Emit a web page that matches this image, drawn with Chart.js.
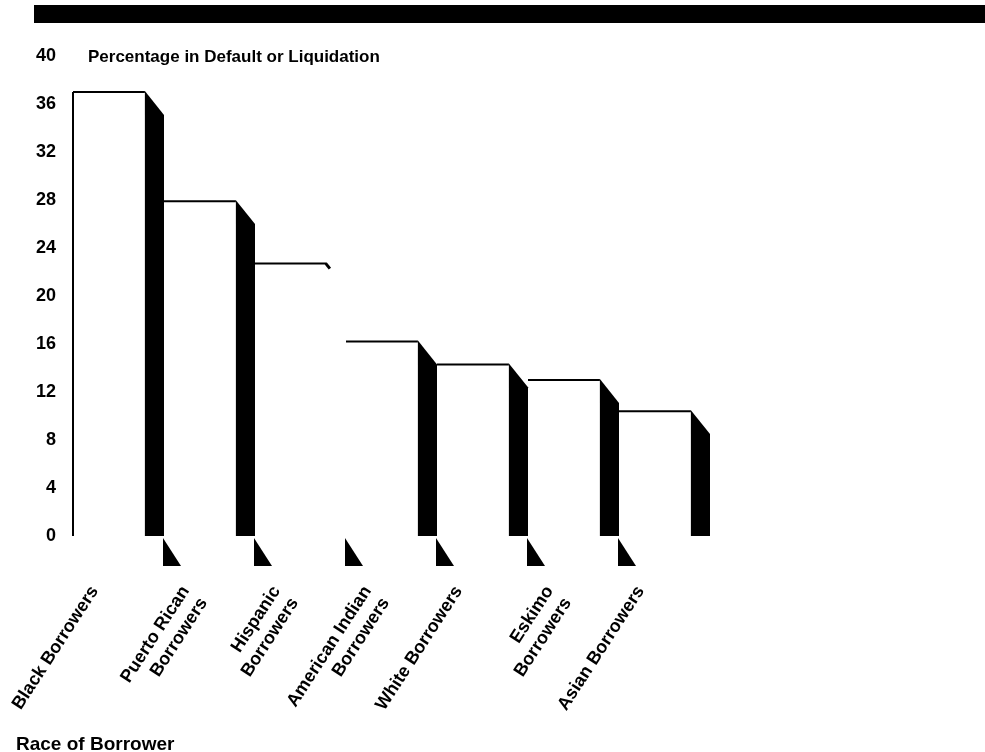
<!DOCTYPE html>
<html>
<head>
<meta charset="utf-8">
<title>Percentage in Default or Liquidation</title>
<script src="https://cdn.jsdelivr.net/npm/chart.js@4.4.1/dist/chart.umd.min.js"></script>
<style>
  html, body { margin: 0; padding: 0; background: #fff; }
</style>
</head>
<body>
<canvas id="defaultChart" width="985" height="752"></canvas>
<script>
// borrower groups, multi-line where the label wraps
var categories = [
  'Black Borrowers',
  ['Puerto Rican', 'Borrowers'],
  ['Hispanic', 'Borrowers'],
  ['American Indian', 'Borrowers'],
  'White Borrowers',
  ['Eskimo', 'Borrowers'],
  'Asian Borrowers'
];
var defaultRates = [37.0, 27.9, 22.7, 16.2, 14.3, 13.0, 10.4];
var yTicks = [0, 4, 8, 12, 16, 20, 24, 28, 32, 36, 40];
var yTitle = 'Percentage in Default or Liquidation';
var xTitle = 'Race of Borrower';

Chart.defaults.font.family = '"Liberation Sans", Arial, Helvetica, sans-serif';
Chart.defaults.font.size = 17;
Chart.defaults.font.weight = 'bold';
Chart.defaults.color = '#000';

// white front face + black depth side, drawn from the bar elements
var blockBars = {
  id: 'blockBars',
  beforeDraw: function (chart) {
    var ctx = chart.ctx;
    ctx.save();
    ctx.fillStyle = '#fff';
    ctx.fillRect(0, 0, chart.width, chart.height);
    ctx.fillStyle = '#000';
    ctx.fillRect(34, 5, chart.width - 34, 18);
    ctx.restore();
  },
  afterDatasetsDraw: function (chart, args, opts) {
    var ctx = chart.ctx;
    var bars = chart.getDatasetMeta(0).data;
    ctx.save();
    ctx.fillStyle = '#000';
    ctx.strokeStyle = '#000';
    bars.forEach(function (bar, i) {
      var left = bar.x - bar.width / 2;
      var right = bar.x + bar.width / 2;
      var face = left + bar.width * 0.79;
      var side = right - face;
      var top = bar.y;
      var base = bar.base;

      // top edge of the front face
      ctx.lineWidth = 2;
      ctx.beginPath();
      ctx.moveTo(left, top);
      ctx.lineTo(face, top);
      ctx.stroke();

      if (i === 0) {
        ctx.beginPath();
        ctx.moveTo(left, top);
        ctx.lineTo(left, base);
        ctx.stroke();
      }

      if (opts.noSide.indexOf(i) >= 0) {
        // only a stub of the slanted edge
        ctx.lineWidth = 3;
        ctx.beginPath();
        ctx.moveTo(face - 1, top);
        ctx.lineTo(face + 3, top + 5);
        ctx.stroke();
      } else {
        ctx.beginPath();
        ctx.moveTo(face, top - 1);
        ctx.lineTo(right, top - 1 + side * 1.25);
        ctx.lineTo(right, base);
        ctx.lineTo(face, base);
        ctx.closePath();
        ctx.fill();
      }

      // little wedge under the axis at each group boundary
      if (i > 0) {
        ctx.beginPath();
        ctx.moveTo(left - 1, base + 2);
        ctx.lineTo(left - 1, base + 30);
        ctx.lineTo(left + 17, base + 30);
        ctx.closePath();
        ctx.fill();
      }
    });
    ctx.restore();
  },
  afterDraw: function (chart) {
    var ctx = chart.ctx;
    var y = chart.scales.y;
    ctx.save();
    ctx.fillStyle = '#000';
    ctx.textAlign = 'left';
    ctx.font = 'bold 17px "Liberation Sans", Arial, sans-serif';
    ctx.textBaseline = 'middle';
    ctx.fillText(yTitle, 88, y.getPixelForValue(40) + 1);
    ctx.font = 'bold 19px "Liberation Sans", Arial, sans-serif';
    ctx.textBaseline = 'alphabetic';
    ctx.fillText(xTitle, 16, 750);
    ctx.restore();
  }
};

new Chart('defaultChart', {
  type: 'bar',
  data: {
    labels: categories,
    datasets: [{
      data: defaultRates,
      backgroundColor: 'rgba(0,0,0,0)',
      borderWidth: 0,
      barPercentage: 1,
      categoryPercentage: 1
    }]
  },
  options: {
    responsive: false,
    animation: false,
    layout: { padding: { left: 16, right: 275, top: 56, bottom: 0 } },
    plugins: {
      legend: { display: false },
      tooltip: { enabled: false },
      blockBars: { noSide: [2] }
    },
    scales: {
      x: {
        grid: { display: false, drawTicks: false },
        border: { display: false },
        ticks: {
          autoSkip: false,
          minRotation: 57,
          maxRotation: 57,
          padding: 46,
          labelOffset: -24,
          font: { size: 18 }
        },
        afterFit: function (scale) {
          scale.height = 216;
          scale.paddingLeft = 0;
          scale.paddingRight = 0;
        }
      },
      y: {
        min: 0,
        max: 40,
        grid: { display: false, drawTicks: false },
        border: { display: false },
        ticks: { padding: 17, font: { size: 18 } },
        afterBuildTicks: function (scale) {
          scale.ticks = yTicks.map(function (v) { return { value: v }; });
        },
        afterFit: function (scale) { scale.width = 57; }
      }
    }
  },
  plugins: [blockBars]
});
</script>
</body>
</html>
